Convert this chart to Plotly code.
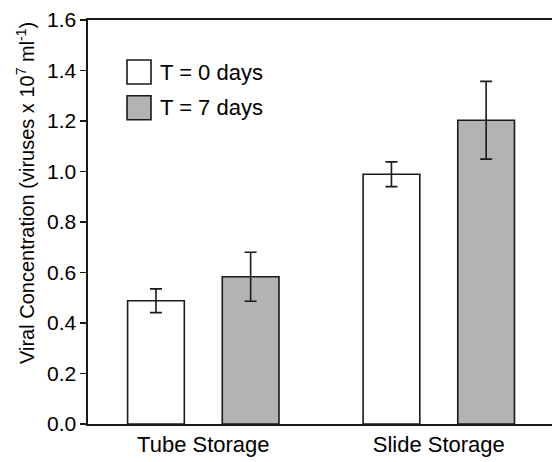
import plotly.graph_objects as go

categories = ["Tube Storage", "Slide Storage"]
t0_values = [0.488, 0.989]
t0_errors = [0.047, 0.049]
t7_values = [0.583, 1.203]
t7_errors = [0.097, 0.154]
series_names = ["T = 0 days", "T = 7 days"]
y_ticks = [0.0, 0.2, 0.4, 0.6, 0.8, 1.0, 1.2, 1.4, 1.6]

FONT = "Liberation Sans, Arial, sans-serif"
OUT = "#1a1a1a"
GRAY = "#b3b3b3"
BW = 0.2408
PW = 472  # plot-area width in px (extends past the visible window, like the cropped original)

fig = go.Figure()
fig.add_trace(go.Bar(
    x=categories, y=t0_values, name=series_names[0],
    width=BW, offset=-0.3214,
    marker=dict(color="white", line=dict(color=OUT, width=1.6)),
    error_y=dict(type="data", array=t0_errors, visible=True, color=OUT, thickness=1.6, width=6),
    showlegend=False,
))
fig.add_trace(go.Bar(
    x=categories, y=t7_values, name=series_names[1],
    width=BW, offset=0.0806,
    marker=dict(color=GRAY, line=dict(color=OUT, width=1.6)),
    error_y=dict(type="data", array=t7_errors, visible=True, color=OUT, thickness=1.6, width=6),
    showlegend=False,
))

# manual legend (large swatches)
for i, (name, col) in enumerate(zip(series_names, ["white", GRAY])):
    y0 = 60 + i * 35.7
    fig.add_shape(type="rect", xref="paper", yref="paper",
                  x0=(127 - 88) / PW, x1=(151 - 88) / PW,
                  y0=(424 - (y0 + 24)) / 404, y1=(424 - y0) / 404,
                  fillcolor=col, line=dict(color=OUT, width=1.6))
    fig.add_annotation(xref="paper", yref="paper", x=(158 - 88) / PW, y=(424 - (y0 + 12)) / 404,
                       text=name, showarrow=False, xanchor="left", yanchor="middle",
                       font=dict(family=FONT, size=22, color="black"))

fig.add_annotation(xref="paper", yref="paper", x=(25 - 88) / PW, y=(424 - 193) / 404,
                   text="Viral Concentration (viruses x 10<sup>7</sup> ml<sup>-1</sup>)",
                   textangle=-90, showarrow=False, xanchor="center", yanchor="middle",
                   font=dict(family=FONT, size=20, color="black"))

fig.update_layout(
    width=88 + PW, height=462,
    margin=dict(l=88, r=0, t=20, b=38),
    paper_bgcolor="white", plot_bgcolor="white",
    barmode="overlay",
    font=dict(family=FONT, size=20, color="black"),
    xaxis=dict(type="category", range=[-0.4896, 1.5147], showline=True, linecolor=OUT,
               linewidth=1.6, mirror=True, ticks="", showgrid=False, zeroline=False,
               tickfont=dict(size=22)),
    yaxis=dict(range=[0, 1.6], tickvals=y_ticks, tickformat=".1f", showline=True,
               linecolor=OUT, linewidth=1.6, ticks="outside", ticklen=6, tickwidth=1.6,
               tickcolor=OUT, showgrid=False, zeroline=False, tickfont=dict(size=21)),
)

fig.write_html("out.html", config={"displayModeBar": False, "staticPlot": True},
               post_script="document.documentElement.style.overflow='hidden';document.body.style.margin='0';document.body.style.overflow='hidden';")
